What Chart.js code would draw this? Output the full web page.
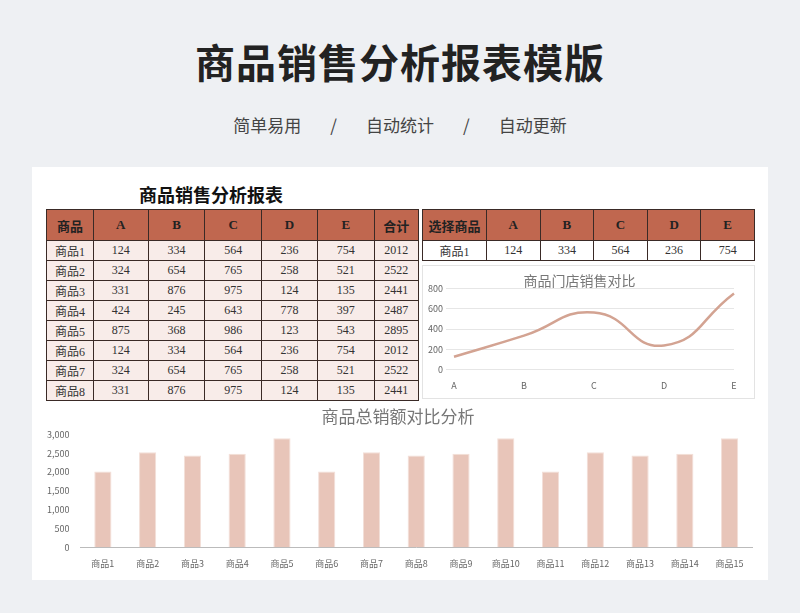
<!DOCTYPE html>
<html lang="zh">
<head>
<meta charset="utf-8">
<title>商品销售分析报表模版</title>
<script src="https://cdn.jsdelivr.net/npm/chart.js@4"></script>
<style>
  body { margin:0; width:800px; height:613px; background:#eef0f3; font-family:"Noto Sans CJK SC",sans-serif; position:relative; overflow:hidden; }
  .abs { position:absolute; }
  #title { left:0; width:800px; top:32px; text-align:center; font-size:40px; font-weight:bold; color:#222; letter-spacing:1px; }
  #sub { left:0; width:800px; top:112px; text-align:center; font-size:17px; color:#444; word-spacing:2px; }
  #card { left:32px; top:167px; width:736px; height:413px; background:#fff; }
  #ltitle { left:46px; width:330px; top:181px; text-align:center; font-size:18px; font-weight:bold; color:#111; }
  table { border-collapse:collapse; font-family:"Liberation Serif","Noto Sans CJK SC",serif; font-size:12px; color:#333; }
  td, th { border:1px solid #3a2a26; text-align:center; padding:0; }
  th { background:#c0674f; color:#222; font-weight:bold; height:30px; font-size:13px; }
  td { background:#f8ece9; height:19px; }
  #rt td { background:#fff; }
  .box { border:1px solid #e3e3e3; background:#fff; }
</style>
</head>
<body>
<div class="abs" id="title">商品销售分析报表模版</div>
<div class="abs" id="sub">简单易用&nbsp;&nbsp;&nbsp;&nbsp;&nbsp;/&nbsp;&nbsp;&nbsp;&nbsp;&nbsp;自动统计&nbsp;&nbsp;&nbsp;&nbsp;&nbsp;/&nbsp;&nbsp;&nbsp;&nbsp;&nbsp;自动更新</div>
<div class="abs" id="card"></div>
<div class="abs" id="ltitle">商品销售分析报表</div>
<table class="abs" id="lt" style="left:46px;top:209px;width:373px"></table>
<table class="abs" id="rt" style="left:422px;top:209px;width:333px"></table>
<div class="abs box" style="left:422px;top:265px;width:331px;height:132px">
  <canvas id="line" width="331" height="132"></canvas>
</div>
<div class="abs" style="left:40px;top:400px;width:720px;height:176px">
  <canvas id="bar" width="720" height="176"></canvas>
</div>

<script>
var stores = ['A', 'B', 'C', 'D', 'E'];
var products = ['商品1', '商品2', '商品3', '商品4', '商品5', '商品6', '商品7', '商品8'];
var sales = [
  [124, 334, 564, 236, 754],
  [324, 654, 765, 258, 521],
  [331, 876, 975, 124, 135],
  [424, 245, 643, 778, 397],
  [875, 368, 986, 123, 543],
  [124, 334, 564, 236, 754],
  [324, 654, 765, 258, 521],
  [331, 876, 975, 124, 135]
];
var totals = [2012, 2522, 2441, 2487, 2895, 2012, 2522, 2441];
var selected = '商品1';
var selectedSales = [124, 334, 564, 236, 754];
var barLabels = ['商品1', '商品2', '商品3', '商品4', '商品5', '商品6', '商品7', '商品8', '商品9', '商品10', '商品11', '商品12', '商品13', '商品14', '商品15'];
var barTotals = [2012, 2522, 2441, 2487, 2895, 2012, 2522, 2441, 2487, 2895, 2012, 2522, 2441, 2487, 2895];

// tables
var widths = [47, 55, 57, 57, 56, 57, 44];
var h = '<tr>' + ['商品'].concat(stores, ['合计']).map(function (t, i) {
  return '<th style="width:' + widths[i] + 'px">' + t + '</th>';
}).join('') + '</tr>';
products.forEach(function (p, r) {
  h += '<tr><td>' + p + '</td>' + sales[r].map(function (v) { return '<td>' + v + '</td>'; }).join('') + '<td>' + totals[r] + '</td></tr>';
});
document.getElementById('lt').innerHTML = h;

var h2 = '<tr><th style="width:63px">选择商品</th>' + stores.map(function (s) { return '<th>' + s + '</th>'; }).join('') + '</tr>';
h2 += '<tr><td>' + selected + '</td>' + selectedSales.map(function (v) { return '<td>' + v + '</td>'; }).join('') + '</tr>';
document.getElementById('rt').innerHTML = h2;

Chart.defaults.font.family = '"Noto Sans CJK SC", sans-serif';
Chart.defaults.color = '#666';

new Chart(document.getElementById('line'), {
  type: 'line',
  data: {
    labels: stores,
    datasets: [{
      data: selectedSales,
      borderColor: '#d3a392',
      borderWidth: 2.5,
      pointRadius: 0,
      tension: 0.5,
      fill: false
    }]
  },
  options: {
    responsive: false,
    animation: false,
    layout: { padding: { left: 2, right: 20, top: 0, bottom: 4 } },
    plugins: {
      legend: { display: false },
      tooltip: { enabled: false },
      title: { display: true, text: '商品门店销售对比', color: '#777', font: { size: 14, weight: 'normal' }, padding: { top: 6, bottom: 0 } }
    },
    scales: {
      x: { grid: { display: false }, border: { display: false }, ticks: { font: { size: 9 } } },
      y: { min: 0, max: 800, ticks: { stepSize: 200, font: { size: 9 } }, grid: { color: '#e6e6e6' }, border: { display: false } }
    }
  }
});

new Chart(document.getElementById('bar'), {
  type: 'bar',
  data: {
    labels: barLabels,
    datasets: [{
      data: barTotals,
      backgroundColor: '#e8c5b9',
      borderColor: '#f3dfd8',
      borderWidth: 1,
      barPercentage: 0.8,
      categoryPercentage: 0.48
    }]
  },
  options: {
    responsive: false,
    animation: false,
    layout: { padding: { left: 4, right: 8, top: 0, bottom: 4 } },
    plugins: {
      legend: { display: false },
      tooltip: { enabled: false },
      title: { display: true, text: '商品总销额对比分析', color: '#777', font: { size: 17, weight: 'normal' }, padding: { top: 6, bottom: 8 } }
    },
    scales: {
      x: { grid: { display: false }, border: { color: '#bbb' }, ticks: { font: { size: 9 }, maxRotation: 0 } },
      y: { min: 0, max: 3000, ticks: { stepSize: 500, font: { size: 9 } }, grid: { display: false }, border: { display: false } }
    }
  }
});
</script>
</body>
</html>
